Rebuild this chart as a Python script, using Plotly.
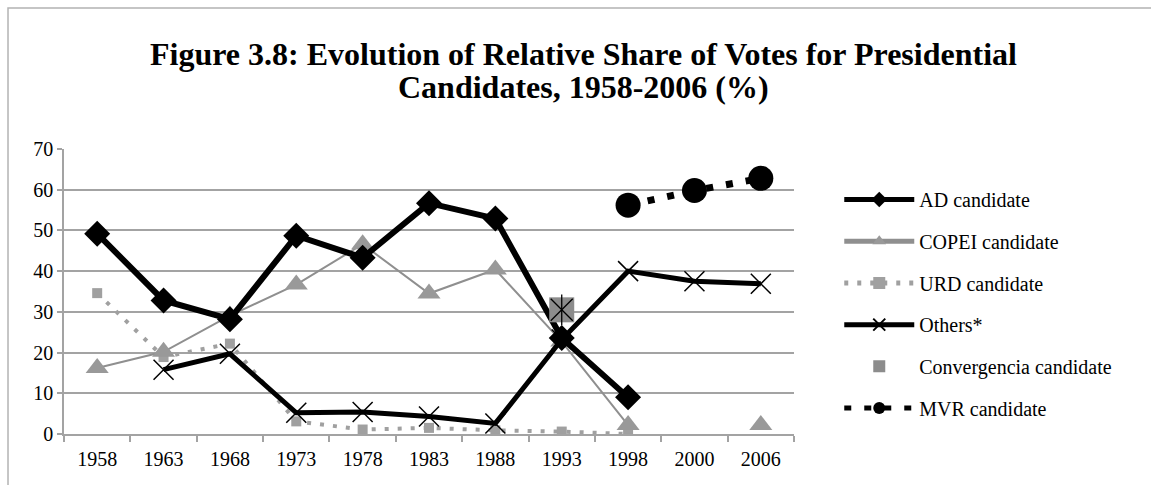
import plotly.graph_objects as go

# Election years and vote shares (%) by candidate group
years = ["1958", "1963", "1968", "1973", "1978", "1983", "1988", "1993", "1998", "2000", "2006"]
ad_candidate = [49.2, 32.8, 28.2, 48.7, 43.3, 56.7, 52.9, 23.6, 9.0, None, None]
copei_candidate = [16.2, 20.2, 29.1, 36.7, 46.6, 34.5, 40.4, 22.7, 2.2, None, 2.2]
urd_candidate = [34.6, 18.9, 22.2, 3.1, 1.1, 1.5, 0.9, 0.6, 0.0, None, None]
others = [None, 15.8, 19.7, 5.2, 5.4, 4.3, 2.6, 23.2, 40.0, 37.5, 36.9]
convergencia = [None, None, None, None, None, None, None, 30.5, None, None, None]
mvr_candidate = [None, None, None, None, None, None, None, None, 56.2, 59.8, 62.8]

y_ticks = [0, 10, 20, 30, 40, 50, 60, 70]

SERIF = "Liberation Serif, Times New Roman, serif"
GRID = "#a3a3a3"
GREY = "#999999"

fig = go.Figure()

fig.add_trace(go.Scatter(
    x=years, y=urd_candidate, name="URD candidate", mode="lines+markers",
    line=dict(color="#a0a0a0", width=4, dash="4px,9px"),
    marker=dict(symbol="square", size=10, color="#a0a0a0"),
    legendgroup="urd", legendrank=3,
))
fig.add_trace(go.Scatter(
    x=years, y=copei_candidate, name="COPEI candidate", mode="lines+markers",
    line=dict(color="#8f8f8f", width=2),
    marker=dict(symbol="triangle-up", size=20, color=GREY),
    connectgaps=False, legendgroup="copei", legendrank=2,
))
fig.add_trace(go.Scatter(
    x=years, y=others, name="Others*", mode="lines+markers",
    line=dict(color="black", width=5),
    marker=dict(symbol="x-thin-open", size=20, color="black", line=dict(width=1.5, color="black")),
    legendgroup="others", legendrank=4,
))
fig.add_trace(go.Scatter(
    x=years, y=ad_candidate, name="AD candidate", mode="lines+markers",
    line=dict(color="black", width=6),
    marker=dict(symbol="diamond", size=20, color="black"),
    legendgroup="ad", legendrank=1,
))
fig.add_trace(go.Scatter(
    x=years, y=convergencia, name="Convergencia candidate", mode="markers",
    marker=dict(symbol="square", size=25, color="#8c8c8c"),
    legendgroup="conv", legendrank=5,
))
# asterisk drawn over the Convergencia square
for sym in ["x-thin-open", "line-ns-open"]:
    fig.add_trace(go.Scatter(
        x=years, y=convergencia, mode="markers", showlegend=False,
        marker=dict(symbol=sym, size=22, color="black", line=dict(width=1.3, color="black")),
        legendgroup="conv", hoverinfo="skip",
    ))
fig.add_trace(go.Scatter(
    x=years, y=mvr_candidate, name="MVR candidate", mode="lines+markers",
    line=dict(color="black", width=7, dash="7px,13px"),
    marker=dict(symbol="circle", size=25, color="black"),
    legendgroup="mvr", legendrank=6,
))

fig.update_layout(
    width=1151, height=485,
    margin=dict(l=64, r=357, t=149, b=51),
    paper_bgcolor="white", plot_bgcolor="white",
    font=dict(family=SERIF, size=20, color="black"),
    showlegend=True,
    legend=dict(
        x=1.062, y=0.891, xanchor="left", yanchor="top",
        font=dict(family=SERIF, size=20, color="black"),
        itemsizing="constant", itemwidth=70, tracegroupgap=12.7,
        bgcolor="rgba(0,0,0,0)",
    ),
    xaxis=dict(
        type="category", categoryorder="array", categoryarray=years,
        showgrid=False, showline=True, linecolor=GRID, linewidth=1.5,
        ticks="outside", tickson="boundaries", ticklen=6, tickcolor=GRID, tickwidth=1.5,
        tickfont=dict(family=SERIF, size=20, color="black"), ticklabelstandoff=6,
        range=[-0.5, len(years) - 0.5],
    ),
    yaxis=dict(
        range=[0, 70], tickvals=y_ticks, showgrid=True, gridcolor=GRID, gridwidth=1.5,
        showline=True, linecolor=GRID, linewidth=1.5, zeroline=False,
        ticks="outside", ticklen=5, tickcolor=GRID, tickwidth=1.5,
        tickfont=dict(family=SERIF, size=20, color="black"),
    ),
    shapes=[dict(
        type="rect", xref="paper", yref="paper",
        x0=-0.0767, x1=2.0, y0=-0.4, y1=1.4947,
        line=dict(color="#b3b3b3", width=1.5), fillcolor="rgba(0,0,0,0)", layer="below",
    )],
    annotations=[
        dict(text="<b>Figure 3.8: Evolution of Relative Share of Votes for Presidential</b>",
             xref="paper", yref="paper", x=0.712, y=1.332, xanchor="center", yanchor="middle",
             showarrow=False, font=dict(family=SERIF, size=32, color="black")),
        dict(text="<b>Candidates, 1958-2006 (%)</b>",
             xref="paper", yref="paper", x=0.712, y=1.2165, xanchor="center", yanchor="middle",
             showarrow=False, font=dict(family=SERIF, size=32, color="black")),
    ],
)

fig.write_html("out.html")
